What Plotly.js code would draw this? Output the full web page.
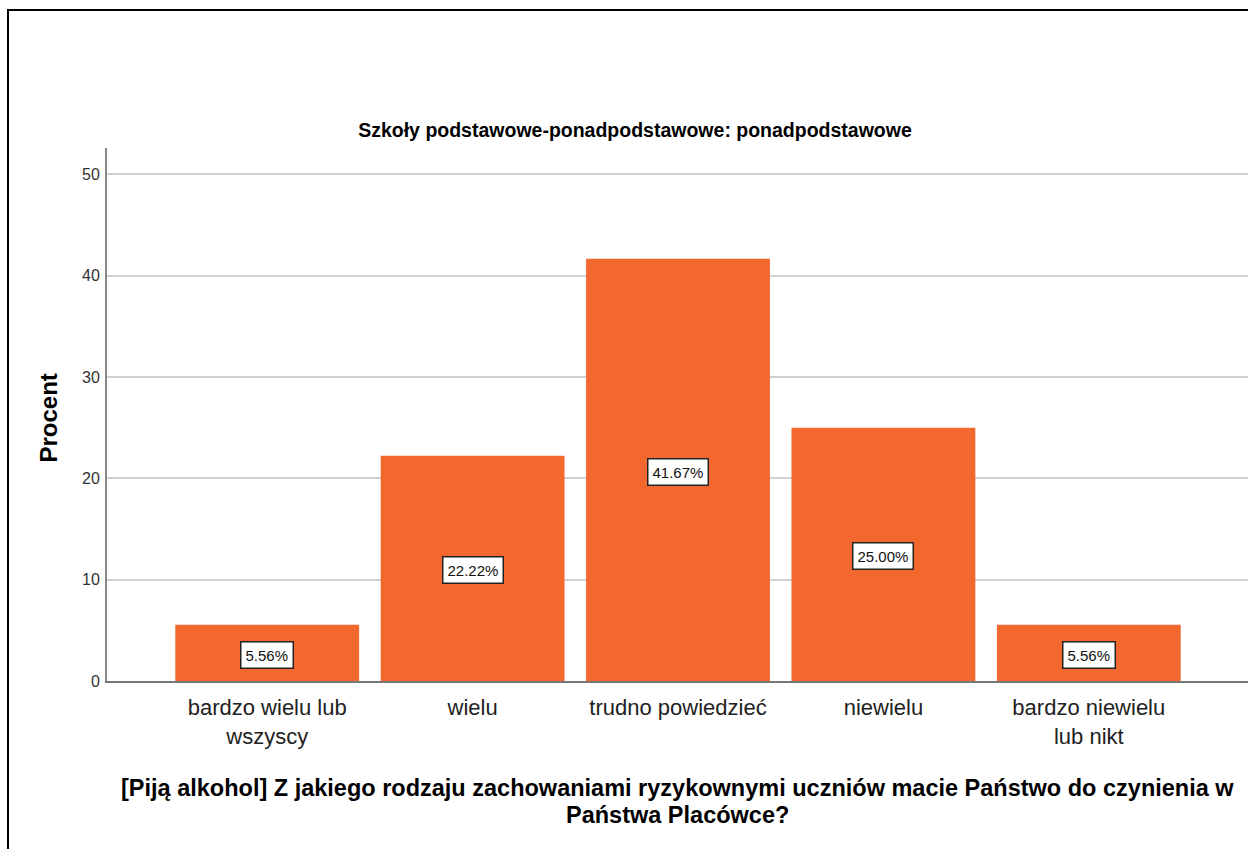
<!DOCTYPE html>
<html><head><meta charset="utf-8">
<script src="https://cdn.plot.ly/plotly-3.0.1.min.js"></script>
<style>
html,body{margin:0;padding:0;background:#fff;}
#wrap{position:relative;width:1248px;height:849px;overflow:hidden;}
#chart{position:absolute;left:0;top:0;width:1248px;height:849px;}
#frame{position:absolute;left:7px;top:9px;width:1300px;height:900px;border-left:2px solid #000;border-top:2px solid #000;pointer-events:none;}
</style></head>
<body><div id="wrap"><div id="chart"></div><div id="frame"></div></div>
<script>
const categories = ["bardzo wielu lub<br>wszyscy", "wielu", "trudno powiedzieć", "niewielu", "bardzo niewielu<br>lub nikt"];
const percents = [5.56, 22.22, 41.67, 25.00, 5.56];
const yTicks = [0, 10, 20, 30, 40, 50];
const chartTitle = "Szkoły podstawowe-ponadpodstawowe: ponadpodstawowe";
const xTitleLines = ["[Piją alkohol] Z jakiego rodzaju zachowaniami ryzykownymi uczniów macie Państwo do czynienia w", "Państwa Placówce?"];
const yTitle = "Procent";

const sans = "'Liberation Sans', Arial, sans-serif";

const trace = {
  type: 'bar',
  x: categories.map((c, i) => i),
  y: percents,
  marker: {color: '#f2682e', line: {width: 0}},
  hoverinfo: 'none',
  width: 0.895
};

const annotations = percents.map((v, i) => ({
  x: i, y: v / 2, xref: 'x', yref: 'y',
  text: v.toFixed(2) + '%', showarrow: false,
  font: {family: sans, size: 15, color: '#111'},
  bgcolor: '#fff', bordercolor: '#222', borderwidth: 1.5, borderpad: 4,
  yshift: -2
}));
const xTitleY = [(681 - 788) / 533, (681 - 815) / 533];
xTitleLines.forEach((t, k) => annotations.push({
  xref: 'paper', yref: 'paper', x: 0.5, y: xTitleY[k], yanchor: 'middle',
  text: '<b>' + t + '</b>', showarrow: false,
  font: {family: sans, size: 23.5, color: '#000'}
}));
annotations.push({
  xref: 'paper', yref: 'paper', x: (47.5 - 107) / 1141, y: (681 - 418) / 533,
  xanchor: 'center', yanchor: 'middle', textangle: -90,
  text: '<b>' + yTitle + '</b>', showarrow: false,
  font: {family: sans, size: 24, color: '#000'}
});

const layout = {
  width: 1248, height: 849,
  margin: {l: 107, r: 0, t: 148, b: 168},
  paper_bgcolor: '#fff', plot_bgcolor: '#fff',
  showlegend: false,
  title: {
    text: '<b>' + chartTitle + '</b>',
    font: {family: sans, size: 19.5, color: '#000'},
    x: 635 / 1248, xanchor: 'center', xref: 'container',
    y: 1 - 130 / 849, yanchor: 'middle', yref: 'container'
  },
  xaxis: {
    range: [-0.78, 4.775],
    tickmode: 'array', tickvals: categories.map((c, i) => i), ticktext: categories,
    tickfont: {family: sans, size: 22, color: '#222'},
    showgrid: false, zeroline: false,
    showline: true, linecolor: '#777', linewidth: 2,
    ticks: '', ticklabelstandoff: 6
  },
  yaxis: {
    range: [0, 52.6],
    tickmode: 'array', tickvals: yTicks,
    tickfont: {family: sans, size: 16, color: '#333'},
    showgrid: true, gridcolor: '#d0d0d0', gridwidth: 2,
    zeroline: false,
    showline: true, linecolor: '#888', linewidth: 2,
    ticks: '', ticklabelstandoff: 2
  },
  annotations: annotations
};

Plotly.newPlot('chart', [trace], layout, {displayModeBar: false, staticPlot: true});
</script></body></html>
